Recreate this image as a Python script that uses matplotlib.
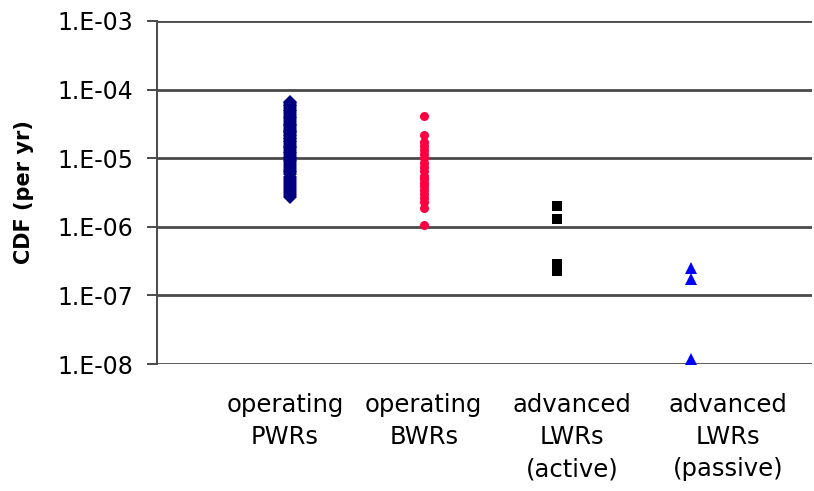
import matplotlib
matplotlib.use("Agg")
import matplotlib.pyplot as plt
import matplotlib.transforms as mtransforms

# core damage frequency estimates, per reactor-year
categories = ["operating\nPWRs", "operating\nBWRs", "advanced\nLWRs\n(active)", "advanced\nLWRs\n(passive)"]
label_x = [0.96, 2.0, 3.11, 4.28]

pwr_cdf = [6.6e-5, 6.3e-5, 6.0e-5, 5.7e-5, 5.4e-5, 5.1e-5, 4.8e-5, 4.5e-5, 4.2e-5, 4.0e-5,
           3.8e-5, 3.6e-5, 3.4e-5, 3.2e-5, 3.0e-5, 2.9e-5, 2.8e-5, 2.6e-5, 2.5e-5, 2.4e-5,
           2.3e-5, 2.2e-5, 2.1e-5, 2.0e-5, 1.9e-5, 1.8e-5, 1.7e-5, 1.6e-5, 1.5e-5, 1.45e-5,
           1.4e-5, 1.3e-5, 1.25e-5, 1.2e-5, 1.1e-5, 1.05e-5, 1.0e-5, 9.5e-6, 9.0e-6, 8.5e-6,
           8.0e-6, 7.5e-6, 7.0e-6, 6.6e-6, 6.2e-6, 5.8e-6, 5.4e-6, 5.0e-6, 4.7e-6, 4.4e-6,
           4.1e-6, 3.8e-6, 3.5e-6, 3.3e-6, 3.1e-6, 2.9e-6, 2.7e-6]
bwr_cdf = [4.1e-5, 2.2e-5, 1.7e-5, 1.5e-5, 1.3e-5, 1.15e-5, 1.0e-5, 8.5e-6, 7.5e-6, 6.5e-6,
           5.5e-6, 5.0e-6, 4.4e-6, 3.9e-6, 3.4e-6, 3.0e-6, 2.6e-6, 2.3e-6, 1.9e-6, 1.05e-6]
active_cdf = [2.0e-6, 1.3e-6, 2.9e-7, 2.6e-7, 2.3e-7]
passive_cdf = [2.5e-7, 1.75e-7, 1.2e-8]

y_ticks = [1e-8, 1e-7, 1e-6, 1e-5, 1e-4, 1e-3]
y_ticklabels = ["1.E-08", "1.E-07", "1.E-06", "1.E-05", "1.E-04", "1.E-03"]

grid_col = "#4a4a4a"
text_col = "black"

fig = plt.figure(figsize=(8.14, 4.91), dpi=100)
ax = fig.add_axes([157 / 814, 1 - 364 / 491, 655 / 814, 343 / 491])

ax.plot([1] * len(pwr_cdf), pwr_cdf, "D", color="#000080", ms=7.5, mew=0, ls="none")
ax.plot([2] * len(bwr_cdf), bwr_cdf, "o", color="#ff0040", ms=6.5, mew=0, ls="none")
ax.plot([3] * len(active_cdf), active_cdf, "s", color="black", ms=7, mew=0, ls="none")
ax.plot([4] * len(passive_cdf), passive_cdf, "^", color="#0000ff", ms=8, mew=0, ls="none")

ax.set_yscale("log")
ax.set_ylim(1e-8, 1e-3)
ax.set_xlim(0, 4.91)
ax.set_yticks(y_ticks)
ax.set_yticklabels(y_ticklabels, fontsize=17, color=text_col)
ax.minorticks_off()
ax.tick_params(axis="y", length=7, width=1.4, color=grid_col, pad=10)
ax.set_xticks([])

for y in y_ticks:
    ax.axhline(y, color=grid_col, lw=2.0, zorder=0)

for s in ["top", "right", "bottom"]:
    ax.spines[s].set_visible(False)
ax.spines["left"].set_color(grid_col)
ax.spines["left"].set_linewidth(1.4)

trans = mtransforms.blended_transform_factory(ax.transData, ax.transAxes)
for x, lab in zip(label_x, categories):
    ax.text(x, -0.085, lab, transform=trans, ha="center", va="top",
            fontsize=17.5, color=text_col, linespacing=1.42)

ax.text(-0.203, 0.5, "CDF (per yr)", transform=ax.transAxes, rotation=90,
        ha="center", va="center", fontsize=15, fontweight="bold", color=text_col)

fig.savefig("out.png", dpi=100)
